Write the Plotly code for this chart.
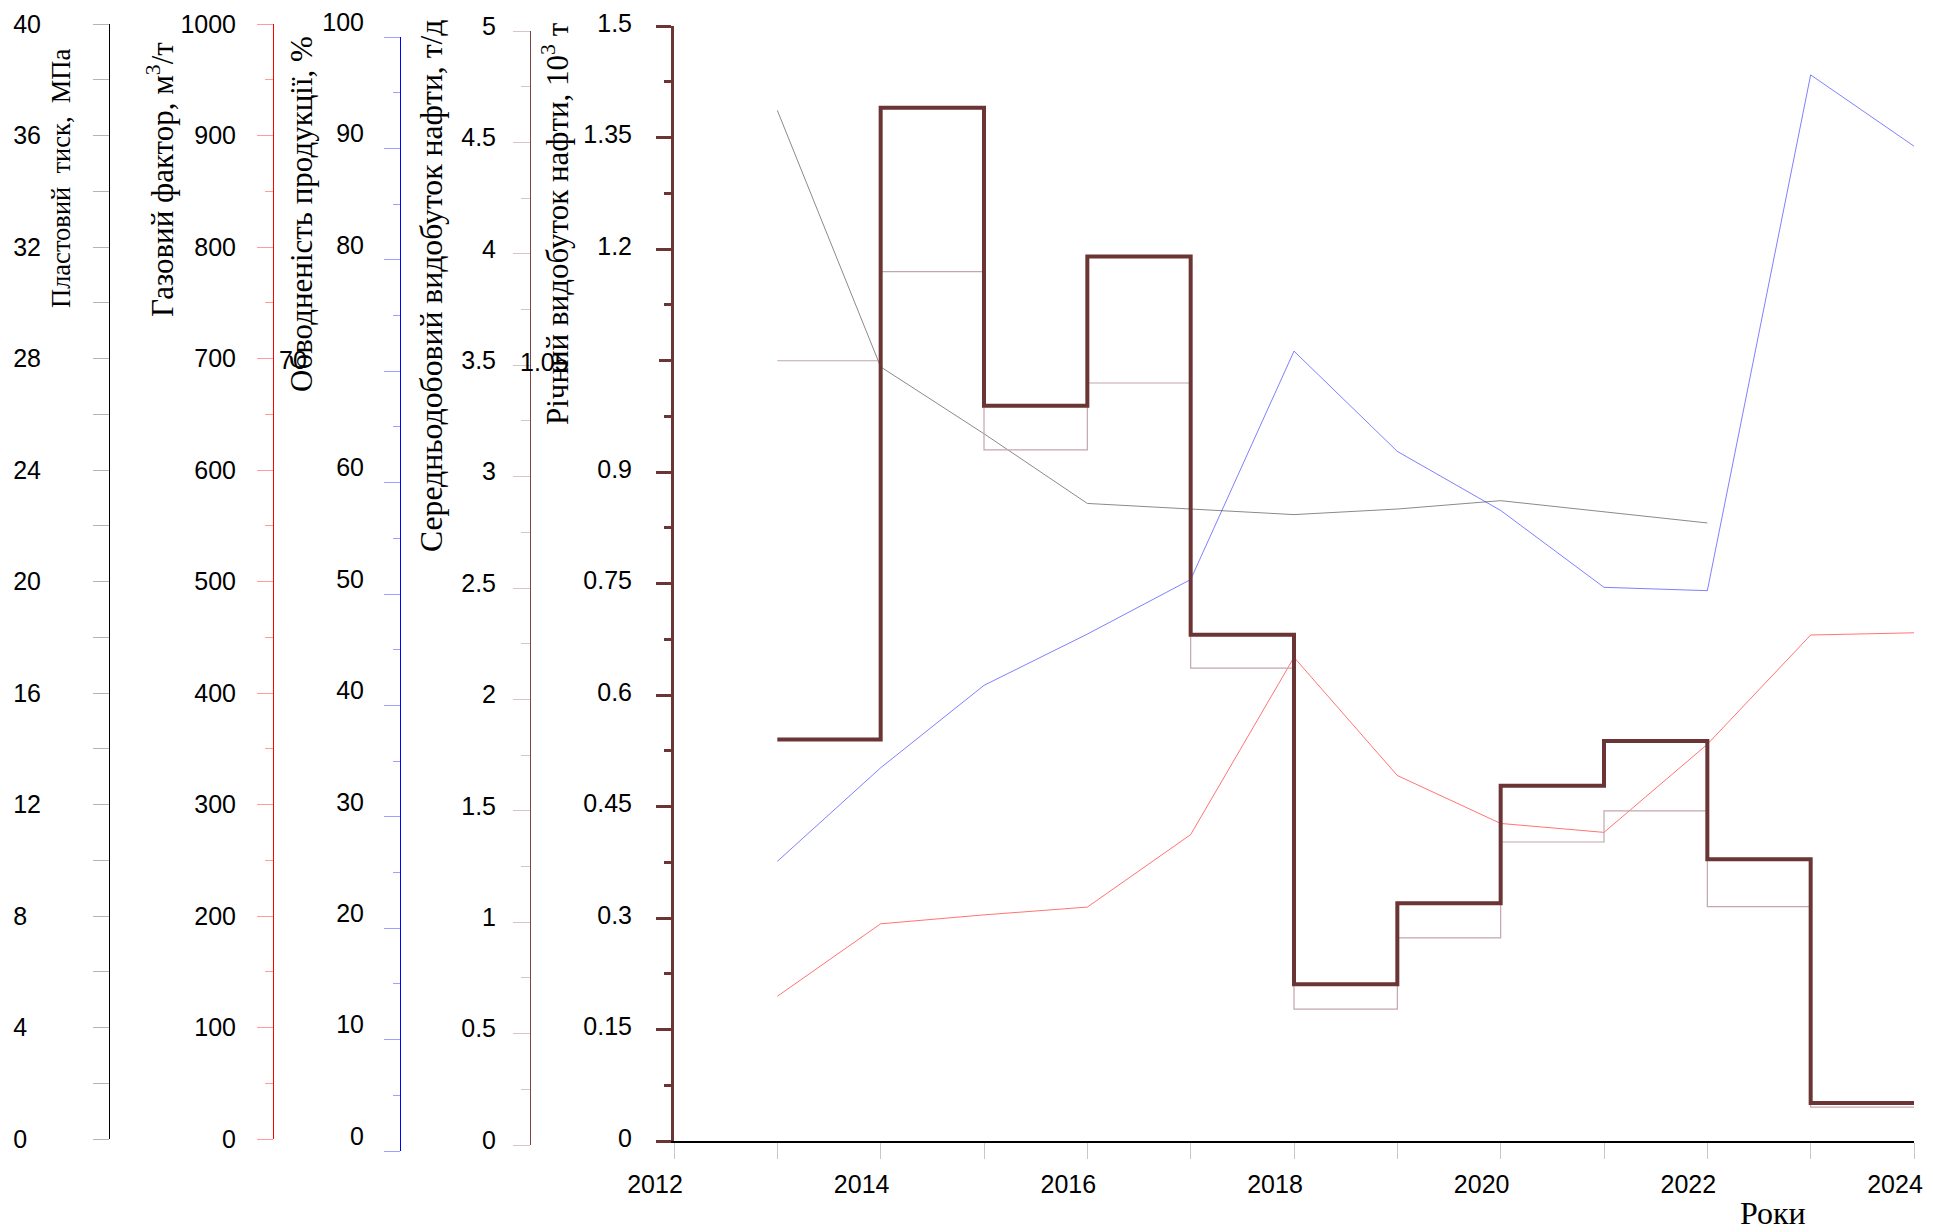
import plotly.graph_objects as go

# ---------------- data ----------------
years_pressure = [2013, 2014, 2015, 2016, 2017, 2018, 2019, 2020, 2021, 2022]
pressure_mpa = [36.9, 27.7, 25.3, 22.8, 22.6, 22.4, 22.6, 22.9, 22.5, 22.1]

years = [2013, 2014, 2015, 2016, 2017, 2018, 2019, 2020, 2021, 2022, 2023, 2024]
gas_factor = [128, 193, 201, 208, 273, 432, 326, 283, 275, 354, 452, 454]
water_cut = [26.0, 34.4, 41.8, 46.4, 51.3, 71.8, 62.8, 57.5, 50.6, 50.3, 96.6, 90.2]

years_step = [2013, 2014, 2015, 2016, 2017, 2018, 2019, 2020, 2021, 2022, 2023]
daily_oil = [3.52, 3.92, 3.12, 3.42, 2.14, 0.61, 0.93, 1.36, 1.50, 1.07, 0.17]
annual_oil = [0.540, 1.390, 0.989, 1.190, 0.681, 0.211, 0.320, 0.478, 0.538, 0.379, 0.051]

x_major = list(range(2012, 2025, 2))
x_minor = list(range(2013, 2024, 2))

W, H = 1933, 1232


def px(x):
    return x / W


def py(y):
    return 1 - y / H


X_DOM = [px(674), px(1914)]
X_RANGE = [2012, 2024]
END_YEAR = 2024

TICK_FONT = dict(family="Liberation Sans", size=25, color="black")

fig = go.Figure()

fig.add_trace(go.Scatter(x=years_pressure, y=pressure_mpa, mode="lines",
                         line=dict(color="#8a8a8a", width=1),
                         xaxis="x", yaxis="y", showlegend=False))
fig.add_trace(go.Scatter(x=years, y=gas_factor, mode="lines",
                         line=dict(color="rgba(255,0,0,0.55)", width=1),
                         xaxis="x2", yaxis="y2", showlegend=False))
fig.add_trace(go.Scatter(x=years, y=water_cut, mode="lines",
                         line=dict(color="rgba(0,0,255,0.5)", width=1),
                         xaxis="x3", yaxis="y3", showlegend=False))
fig.add_trace(go.Scatter(x=years_step + [END_YEAR], y=daily_oil + [daily_oil[-1]],
                         mode="lines", line=dict(color="#c4a6ac", width=1.2, shape="hv"),
                         xaxis="x4", yaxis="y4", showlegend=False))
fig.add_trace(go.Scatter(x=years_step + [END_YEAR], y=annual_oil + [annual_oil[-1]],
                         mode="lines", line=dict(color="#6b3535", width=4, shape="hv"),
                         xaxis="x5", yaxis="y5", showlegend=False))
# empty helpers so that the tick-only overlay axes get a subplot
fig.add_trace(go.Scatter(x=[], y=[], xaxis="x3", yaxis="y6", showlegend=False, hoverinfo="skip"))
fig.add_trace(go.Scatter(x=[], y=[], xaxis="x5", yaxis="y7", showlegend=False, hoverinfo="skip"))

hidden_x = dict(domain=X_DOM, range=X_RANGE, visible=False, showgrid=False,
                zeroline=False, automargin=False)

p_vals = list(range(0, 41, 4))
p_text = [str(v) + "\u2007" if v < 10 else str(v) for v in p_vals]
p_minor = list(range(2, 40, 4))

g_vals = list(range(0, 1001, 100))
g_minor = list(range(50, 1000, 100))

w_vals = [0, 10, 20, 30, 40, 50, 60, 80, 90, 100]
w_displaced = [70]
w_minor = list(range(5, 100, 10))

d_vals = [0, 0.5, 1, 1.5, 2, 2.5, 3, 3.5, 4, 4.5, 5]
d_text = ["0", "0.5", "1", "1.5", "2", "2.5", "3", "3.5", "4", "4.5", "5"]
d_minor = [0.25, 0.75, 1.25, 1.75, 2.25, 2.75, 3.25, 3.75, 4.25, 4.75]

a_vals = [0, 0.15, 0.3, 0.45, 0.6, 0.75, 0.9, 1.2, 1.35, 1.5]
a_text = ["0", "0.15", "0.3", "0.45", "0.6", "0.75", "0.9", "1.2", "1.35", "1.5"]
a_displaced = [1.05]
a_minor = [round(0.075 + 0.15 * i, 3) for i in range(10)]

common_y = dict(showgrid=False, zeroline=False, tickmode="array", ticks="outside",
                tickfont=TICK_FONT, showline=True, side="left", fixedrange=True,
                automargin=False)

W_DOM = [py(1151), py(37)]
A_DOM = [py(1141), py(26)]

fig.update_layout(
    template="none",
    width=W, height=H,
    margin=dict(l=0, r=0, t=0, b=0, pad=0, autoexpand=False),
    paper_bgcolor="white", plot_bgcolor="rgba(0,0,0,0)",
    showlegend=False,
    xaxis=dict(hidden_x, anchor="y"),
    xaxis2=dict(hidden_x, anchor="y2"),
    xaxis3=dict(hidden_x, anchor="y3"),
    xaxis4=dict(hidden_x, anchor="y4"),
    xaxis5=dict(domain=X_DOM, range=X_RANGE, anchor="y5", showgrid=False, zeroline=False,
                automargin=False, tickmode="array", tickvals=x_major,
                ticktext=[str(v) for v in x_major],
                ticks="outside", ticklen=16, tickcolor="#c8c8c8", tickwidth=1,
                minor=dict(tickmode="array", tickvals=x_minor, ticks="outside", ticklen=16,
                           tickcolor="#c8c8c8", tickwidth=1, showgrid=False),
                showline=True, linecolor="black", linewidth=2,
                tickfont=TICK_FONT, ticklabelshift=-19, ticklabelstandoff=4),
    yaxis=dict(common_y, domain=[py(1139), py(24)], range=[0, 40], anchor="free",
               position=px(109), tickvals=p_vals, ticktext=p_text, ticklen=16,
               tickcolor="#b4b4b4", tickwidth=1, linecolor="black", linewidth=1,
               minor=dict(tickmode="array", tickvals=p_minor, ticks="outside", ticklen=16,
                          tickcolor="#b4b4b4", tickwidth=1, showgrid=False),
               ticklabelstandoff=47),
    yaxis2=dict(common_y, domain=[py(1139), py(24)], range=[0, 1000], anchor="free",
                position=px(273), tickvals=g_vals, ticktext=[str(v) for v in g_vals],
                ticklen=16, tickcolor="#ff9c9c", tickwidth=1, linecolor="#ff0000", linewidth=1,
                minor=dict(tickmode="array", tickvals=g_minor, ticks="outside", ticklen=8,
                           tickcolor="#ff9c9c", tickwidth=1, showgrid=False),
                ticklabelstandoff=16),
    yaxis3=dict(common_y, domain=W_DOM, range=[0, 100], anchor="free",
                position=px(400), tickvals=w_vals, ticktext=[str(v) for v in w_vals],
                ticklen=16, tickcolor="#a0a0ff", tickwidth=1, linecolor="#0000ff", linewidth=1,
                minor=dict(tickmode="array", tickvals=w_minor, ticks="outside", ticklen=7,
                           tickcolor="#a0a0ff", tickwidth=1, showgrid=False),
                ticklabelshift=-15, ticklabelstandoff=15),
    yaxis6=dict(showgrid=False, zeroline=False, showline=False, tickmode="array",
                tickvals=w_displaced, ticks="outside", ticklen=16, tickcolor="#a0a0ff",
                tickwidth=1, showticklabels=False, overlaying="y3", anchor="free",
                position=px(400), side="left", range=[0, 100], automargin=False,
                fixedrange=True),
    yaxis4=dict(common_y, domain=[py(1145), py(31)], range=[0, 5], anchor="free",
                position=px(530), tickvals=d_vals, ticktext=d_text,
                ticklen=17, tickcolor="#d8c6c6", tickwidth=1, linecolor="#7a4545", linewidth=1,
                minor=dict(tickmode="array", tickvals=d_minor, ticks="outside", ticklen=9,
                           tickcolor="#d8c6c6", tickwidth=1, showgrid=False),
                ticklabelshift=-5, ticklabelstandoff=12),
    yaxis5=dict(common_y, domain=A_DOM, range=[0, 1.5], anchor="x5",
                tickvals=a_vals, ticktext=a_text,
                ticklen=15, tickcolor="#6b3535", tickwidth=3, linecolor="#6b3535", linewidth=3,
                minor=dict(tickmode="array", tickvals=a_minor, ticks="outside", ticklen=7,
                           tickcolor="#6b3535", tickwidth=3, showgrid=False),
                ticklabelshift=-3, ticklabelstandoff=19),
    yaxis7=dict(showgrid=False, zeroline=False, showline=False, tickmode="array",
                tickvals=a_displaced, ticks="outside", ticklen=15, tickcolor="#6b3535",
                tickwidth=3, showticklabels=False, overlaying="y5", anchor="free",
                position=px(674), side="left", range=[0, 1.5], automargin=False,
                fixedrange=True),
)

annotations = [
    dict(text="Пластовий\u00a0 тиск,\u00a0 МПа", x=px(61), y=py(179), size=26.5),
    dict(text="Газовий фактор, м<sup>3</sup>/т", x=px(161), y=py(180), size=31),
    dict(text="Обводненість продукції, %", x=px(301), y=py(214), size=31),
    dict(text="Середньодобовий видобуток нафти, т/д", x=px(431), y=py(286), size=31.7),
    dict(text="Річний видобуток нафти, 10<sup>3</sup> т", x=px(555), y=py(224), size=31),
]
for a in annotations:
    fig.add_annotation(xref="paper", yref="paper", textangle=-90, showarrow=False,
                       xanchor="center", yanchor="middle", text=a["text"], x=a["x"], y=a["y"],
                       font=dict(family="Liberation Serif", size=a["size"], color="black"))

# tick labels that sit away from their ticks in the original
fig.add_annotation(text=str(w_displaced[0]), xref="paper", yref="paper", x=px(277), y=py(360),
                   xanchor="left", yanchor="middle", showarrow=False, font=TICK_FONT)
fig.add_annotation(text="1.05", xref="paper", yref="paper", x=px(518), y=py(362),
                   xanchor="left", yanchor="middle", showarrow=False, font=TICK_FONT)
fig.add_annotation(text="Роки", xref="paper", yref="paper", x=px(1773), y=py(1213),
                   xanchor="center", yanchor="middle", showarrow=False,
                   font=dict(family="Liberation Serif", size=32, color="black"))

fig.write_html("out.html", config={"displayModeBar": False},
               post_script="document.body.style.margin='0';document.body.style.overflow='hidden';")
